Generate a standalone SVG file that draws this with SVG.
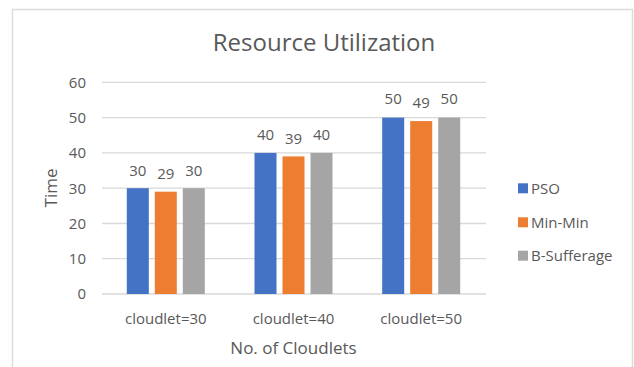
<svg xmlns="http://www.w3.org/2000/svg" width="634" height="367" viewBox="0 0 634 367">
<style>
text{font-family:"Open Sans","Liberation Sans",sans-serif;fill:#595959}
.t{font-size:24px;text-anchor:middle}
.tick{font-size:15px;text-anchor:end}
.cat{font-size:15px;text-anchor:middle}
.dl{font-size:15px;text-anchor:middle}
.ax{font-size:17px;text-anchor:middle}
.lg{font-size:15px}
.grid line{stroke:#D9D9D9;stroke-width:1.3}
.pso{fill:#4472C4}
.mm{fill:#ED7D31}
.bs{fill:#A5A5A5}
</style>
<rect x="0" y="0" width="634" height="367" fill="#fff"/>
<path d="M12.5 370 V9.5 H632.5 V370" fill="none" stroke="#DCDCDC" stroke-width="1.5"/>
<text class="t" x="324" y="50.5">Resource Utilization</text>
<g class="grid">
<line x1="102" y1="82.3" x2="486" y2="82.3"/>
<line x1="102" y1="117.6" x2="486" y2="117.6"/>
<line x1="102" y1="152.9" x2="486" y2="152.9"/>
<line x1="102" y1="188.2" x2="486" y2="188.2"/>
<line x1="102" y1="223.5" x2="486" y2="223.5"/>
<line x1="102" y1="258.7" x2="486" y2="258.7"/>
<line x1="102" y1="294" x2="486" y2="294"/>
</g>
<g id="yticks">
<text class="tick" x="86" y="87.7">60</text>
<text class="tick" x="86" y="123">50</text>
<text class="tick" x="86" y="158.3">40</text>
<text class="tick" x="86" y="193.6">30</text>
<text class="tick" x="86" y="228.9">20</text>
<text class="tick" x="86" y="264.1">10</text>
<text class="tick" x="86" y="299.4">0</text>
</g>
<text class="ax" transform="translate(56.5,188) rotate(-90)">Time</text>
<g id="group-30">
<rect class="pso" x="126.8" y="188.2" width="22" height="105.8"/>
<rect class="mm" x="154.8" y="191.7" width="22" height="102.3"/>
<rect class="bs" x="182.8" y="188.2" width="22" height="105.8"/>
<text class="dl" x="137.8" y="175.5">30</text>
<text class="dl" x="165.8" y="179">29</text>
<text class="dl" x="193.8" y="175.5">30</text>
<text class="cat" x="165.8" y="323.5">cloudlet=30</text>
</g>
<g id="group-40">
<rect class="pso" x="254.5" y="152.9" width="22" height="141.1"/>
<rect class="mm" x="282.5" y="156.4" width="22" height="137.6"/>
<rect class="bs" x="310.5" y="152.9" width="22" height="141.1"/>
<text class="dl" x="265.5" y="140.2">40</text>
<text class="dl" x="293.5" y="143.7">39</text>
<text class="dl" x="321.5" y="140.2">40</text>
<text class="cat" x="293.5" y="323.5">cloudlet=40</text>
</g>
<g id="group-50">
<rect class="pso" x="382.2" y="117.6" width="22" height="176.4"/>
<rect class="mm" x="410.2" y="121.1" width="22" height="172.9"/>
<rect class="bs" x="438.2" y="117.6" width="22" height="176.4"/>
<text class="dl" x="393.2" y="104.3">50</text>
<text class="dl" x="421.2" y="107.8">49</text>
<text class="dl" x="449.2" y="104.3">50</text>
<text class="cat" x="421.2" y="323.5">cloudlet=50</text>
</g>
<text class="ax" x="293.5" y="353.5">No. of Cloudlets</text>
<g id="legend">
<g id="legend-pso"><rect class="pso" x="518" y="183.3" width="10" height="10"/><text class="lg" x="531" y="193.7">PSO</text></g>
<g id="legend-minmin"><rect class="mm" x="518" y="217.3" width="10" height="10"/><text class="lg" x="531" y="227.7">Min-Min</text></g>
<g id="legend-bsuff"><rect class="bs" x="518" y="250.7" width="10" height="10"/><text class="lg" x="531" y="261.1">B-Sufferage</text></g>
</g>
</svg>
